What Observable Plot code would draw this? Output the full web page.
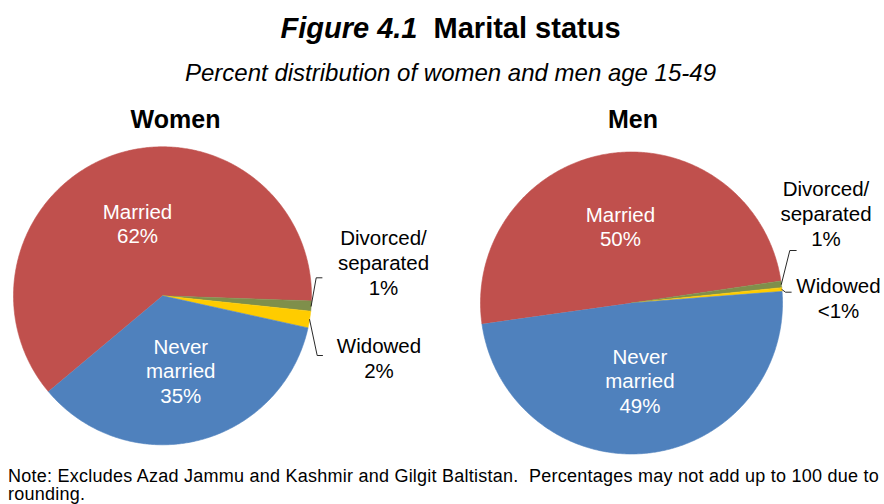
<!DOCTYPE html>
<html>
<head>
<meta charset="utf-8">
<script src="https://cdn.jsdelivr.net/npm/d3@7"></script>
<script src="https://cdn.jsdelivr.net/npm/@observablehq/plot@0.6"></script>
<style>
  html, body { margin: 0; padding: 0; background: #fff; }
  body { width: 884px; height: 504px; position: relative; overflow: hidden;
         font-family: "Liberation Sans", Arial, sans-serif; color: #000; }
  #title { position: absolute; left: 0; top: 13.5px; width: 901px; text-align: center;
           font-size: 29px; line-height: 29px; font-weight: bold; white-space: pre; }
  #subtitle { position: absolute; left: 0; top: 60.7px; width: 901px; text-align: center;
              font-size: 24px; line-height: 24px; font-style: italic; white-space: pre; }
  #chart { position: absolute; left: 0; top: 88px; }
  #note { position: absolute; left: 8px; top: 466.75px; font-size: 18px; line-height: 18px; white-space: pre; }
</style>
</head>
<body>
<div id="title"><i>Figure 4.1</i>  Marital status</div>
<div id="subtitle">Percent distribution of women and men age 15-49</div>
<div id="chart"></div>
<div id="note"></div>
<script>
// ---- data ----
const categories = ["Married", "Divorced/separated", "Widowed", "Never married"];
const labelNames = ["Married", "Divorced/\nseparated", "Widowed", "Never\nmarried"];
const groups = ["Women", "Men"];
const womenValues = [61.6, 1.1, 1.8, 35.4];
const menValues = [49.9, 0.7, 0.4, 49.0];
const noteLines = [
  "Note: Excludes Azad Jammu and Kashmir and Gilgit Baltistan.  Percentages may not add up to 100 due to",
  "rounding."
];

// ---- styles ----
const colors = ["#C0504D", "#7F8F4B", "#FFCC00", "#4F81BD"];
const FONT = "'Liberation Sans', Arial, sans-serif";

// ---- layout (page pixel coordinates) ----
const pies = [
  {group: "Women", values: womenValues, cx: 162, cy: 295.3, r: 149, start: 230, headX: 175},
  {group: "Men",   values: menValues,   cx: 631, cy: 302.5, r: 151, start: 262, headX: 632.5}
];
const headBaseline = 127;
const outside = {
  "Women|Divorced/separated": {x: 383,   y: 294, ex: 315.7, ey: 277.3, hx: 321.5},
  "Women|Widowed":            {x: 378.5, y: 377, ex: 316.7, ey: 355,   hx: 322},
  "Men|Divorced/separated":   {x: 825.5, y: 245, ex: 789.3, ey: 250,   hx: 795.7},
  "Men|Widowed":              {x: 838,   y: 317, ex: 785,   ey: 291.7, hx: 790.7}
};

const fmt = v => v < 0.5 ? "<1%" : Math.round(v) + "%";
const toRad = d => d * Math.PI / 180;

const slicePts = [], insideLabels = [], outsideLabels = [], leaderPts = [];
for (const p of pies) {
  const arcs = d3.pie().sort(null)
    .startAngle(toRad(p.start)).endAngle(toRad(p.start) + 2 * Math.PI)(p.values);
  const pt = (ang, rr) => ({x: p.cx + rr * Math.sin(ang), y: p.cy - rr * Math.cos(ang)});
  arcs.forEach((a, i) => {
    const key = p.group + "|" + categories[i];
    const category = categories[i];
    slicePts.push({key, category, ...pt(0, 0)});
    const n = Math.max(2, Math.ceil((a.endAngle - a.startAngle) / toRad(0.5)));
    for (let j = 0; j <= n; j++) {
      slicePts.push({key, category, ...pt(a.startAngle + (a.endAngle - a.startAngle) * j / n, p.r)});
    }
    const mid = (a.startAngle + a.endAngle) / 2;
    const text = labelNames[i] + "\n" + fmt(p.values[i]);
    const o = outside[key];
    if (o) {
      outsideLabels.push({text, x: o.x, y: o.y});
      leaderPts.push({key, ...pt(mid, p.r)});
      leaderPts.push({key, x: o.ex, y: o.ey});
      leaderPts.push({key, x: o.hx, y: o.ey});
    } else {
      insideLabels.push({text, ...pt(mid, 0.515 * p.r)});
    }
  });
}

const chart = Plot.plot({
  width: 884,
  height: 374,
  margin: 0,
  x: {domain: [0, 884], range: [0, 884], axis: null},
  y: {domain: [88, 462], range: [0, 374], axis: null},
  color: {domain: categories, range: colors},
  style: {fontFamily: FONT, background: "white", overflow: "visible"},
  marks: [
    Plot.line(slicePts, {x: "x", y: "y", z: "key", fill: "category", stroke: "category", strokeWidth: 0.6, curve: "linear"}),
    Plot.line(leaderPts, {x: "x", y: "y", z: "key", stroke: "#111", strokeWidth: 0.9, curve: "linear"}),
    Plot.text(insideLabels, {x: "x", y: "y", text: "text", fill: "white", fontSize: 20.5, lineHeight: 1.2, lineAnchor: "middle"}),
    Plot.text(outsideLabels, {x: "x", y: "y", text: "text", fill: "black", fontSize: 20.5, lineHeight: 1.2, lineAnchor: "bottom"}),
    Plot.text(groups, {x: (d, i) => pies[i].headX, y: () => headBaseline, text: d => d, fill: "black", fontSize: 25, fontWeight: "bold", lineAnchor: "bottom"})
  ]
});
document.getElementById("chart").appendChild(chart);

// note, fitted to the reference's line width
const note = document.getElementById("note");
note.textContent = noteLines.join("\n");
const ctx = document.createElement("canvas").getContext("2d");
ctx.font = "18px 'Liberation Sans'";
const w = ctx.measureText(noteLines[0]).width;
const ls = (872 - w) / noteLines[0].length;
note.style.letterSpacing = ls + "px";
</script>
</body>
</html>
